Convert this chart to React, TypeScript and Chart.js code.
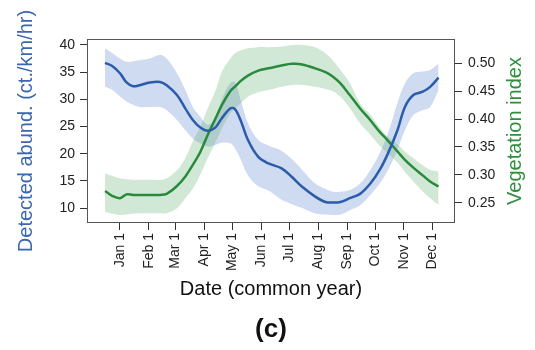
import React, { useEffect, useRef } from "react";
import { Chart, registerables } from "chart.js";

Chart.register(...registerables);

// Day of year (x) for all series samples
const days = [-15, -7, 1, 8, 15, 22, 33, 44, 51, 62, 71, 79, 87, 95, 103, 110, 119, 124, 130, 138, 149, 160, 174, 185, 196, 210, 221, 229, 237, 247, 258, 269, 279, 288, 298, 306, 315, 325, 333, 342];

// Detected abundance (left axis)
const abundMean = [36.7, 36.1, 34.8, 33.1, 32.4, 32.6, 33.1, 33.2, 32.6, 30.8, 28.3, 26.2, 24.8, 24.2, 24.8, 26.5, 28.3, 28.2, 26.2, 22.5, 19.4, 18.2, 17.3, 15.7, 13.9, 12.1, 11.1, 11.0, 11.1, 11.8, 12.6, 14.5, 17.0, 20.1, 24.3, 28.6, 30.8, 31.4, 32.3, 34.0];
const abundUpper = [39.4, 38.5, 37.5, 36.9, 37.0, 37.2, 37.5, 38.2, 37.5, 34.8, 31.7, 28.6, 26.8, 25.3, 26.5, 30.0, 33.0, 33.2, 30.0, 25.6, 22.5, 21.5, 20.5, 19.0, 17.0, 14.5, 13.5, 13.0, 13.0, 13.3, 14.5, 17.0, 20.1, 23.8, 29.3, 32.9, 34.8, 35.1, 35.4, 36.6];
const abundLower = [32.3, 31.7, 30.5, 29.6, 29.0, 28.6, 28.6, 28.6, 28.0, 26.2, 24.3, 22.8, 21.9, 21.3, 21.6, 22.0, 21.9, 21.0, 19.0, 16.0, 14.0, 13.2, 11.5, 10.7, 10.0, 9.0, 8.8, 8.7, 8.8, 9.6, 10.5, 12.4, 14.5, 17.0, 20.7, 24.3, 27.1, 28.0, 28.6, 31.7];

// Vegetation index (right axis)
const vegMean = [0.271, 0.262, 0.258, 0.265, 0.264, 0.264, 0.264, 0.264, 0.266, 0.280, 0.297, 0.318, 0.341, 0.372, 0.400, 0.425, 0.450, 0.458, 0.468, 0.478, 0.487, 0.491, 0.496, 0.499, 0.498, 0.491, 0.484, 0.476, 0.464, 0.443, 0.419, 0.398, 0.377, 0.361, 0.342, 0.327, 0.313, 0.299, 0.288, 0.279];
const vegUpper = [0.303, 0.298, 0.294, 0.292, 0.291, 0.291, 0.291, 0.291, 0.294, 0.308, 0.330, 0.360, 0.386, 0.420, 0.450, 0.485, 0.508, 0.518, 0.523, 0.527, 0.529, 0.529, 0.530, 0.533, 0.533, 0.529, 0.518, 0.505, 0.488, 0.465, 0.428, 0.408, 0.385, 0.368, 0.355, 0.342, 0.330, 0.317, 0.309, 0.306];
const vegLower = [0.234, 0.230, 0.228, 0.229, 0.230, 0.231, 0.231, 0.231, 0.231, 0.240, 0.258, 0.275, 0.300, 0.330, 0.357, 0.383, 0.410, 0.419, 0.428, 0.440, 0.448, 0.452, 0.458, 0.461, 0.461, 0.458, 0.454, 0.450, 0.440, 0.420, 0.392, 0.372, 0.352, 0.338, 0.322, 0.305, 0.288, 0.270, 0.258, 0.246];

// Ticks
const monthDays = [1, 32, 60, 91, 121, 152, 182, 213, 244, 274, 305, 335];
const monthLabels = ["Jan 1", "Feb 1", "Mar 1", "Apr 1", "May 1", "Jun 1", "Jul 1", "Aug 1", "Sep 1", "Oct 1", "Nov 1", "Dec 1"];
const leftTicks = [10, 15, 20, 25, 30, 35, 40];
const rightTicks = [0.25, 0.3, 0.35, 0.4, 0.45, 0.5];

const FONT = '"Liberation Sans", Arial, sans-serif';
const BLUE = "#2b5ca9";
const GREEN = "#2a8a3c";
const BLUE_TITLE = "#3b66b0";
const GREEN_TITLE = "#2f8f3f";

const pts = (arr: number[]) => days.map((d, i) => ({ x: d, y: arr[i] }));

const overlay = {
  id: "overlay",
  afterDraw(chart: any) {
    const { ctx, chartArea } = chart;
    const { left, top, right, bottom } = chartArea;
    ctx.save();
    ctx.strokeStyle = "#555";
    ctx.lineWidth = 1;
    ctx.strokeRect(Math.round(left) + 0.5, Math.round(top) + 0.5, Math.round(right - left) - 1, Math.round(bottom - top) - 1);
    const cy = (top + bottom) / 2;
    ctx.textAlign = "center";
    ctx.textBaseline = "alphabetic";
    ctx.font = `20px ${FONT}`;
    // left title
    ctx.save();
    ctx.fillStyle = BLUE_TITLE;
    ctx.translate(32, cy);
    ctx.rotate(-Math.PI / 2);
    ctx.fillText("Detected abund. (ct./km/hr)", 0, 0);
    ctx.restore();
    // right title
    ctx.save();
    ctx.fillStyle = GREEN_TITLE;
    ctx.translate(521, cy);
    ctx.rotate(-Math.PI / 2);
    ctx.fillText("Vegetation index", 0, 0);
    ctx.restore();
    // x title
    ctx.fillStyle = "#111";
    ctx.fillText("Date (common year)", (left + right) / 2, 295);
    ctx.font = `bold 26px ${FONT}`;
    ctx.fillText("(c)", (left + right) / 2, 337);
    ctx.restore();
  },
};

export default function App() {
  const ref = useRef<HTMLCanvasElement | null>(null);
  useEffect(() => {
    document.body.style.margin = "0";
    const canvas = ref.current;
    if (!canvas) return;
    const chart = new Chart(canvas, {
      type: "line",
      data: {
        datasets: [
          { data: pts(abundMean), yAxisID: "y", borderColor: BLUE, borderWidth: 2.5, pointRadius: 0, tension: 0.35, fill: false },
          { data: pts(vegMean), yAxisID: "y1", borderColor: GREEN, borderWidth: 2.5, pointRadius: 0, tension: 0.35, fill: false },
          { data: pts(vegUpper), yAxisID: "y1", borderWidth: 0, borderColor: "rgba(0,0,0,0)", pointRadius: 0, tension: 0.35, fill: { target: 3 }, backgroundColor: "rgba(80,165,95,0.26)" },
          { data: pts(vegLower), yAxisID: "y1", borderWidth: 0, borderColor: "rgba(0,0,0,0)", pointRadius: 0, tension: 0.35, fill: false },
          { data: pts(abundUpper), yAxisID: "y", borderWidth: 0, borderColor: "rgba(0,0,0,0)", pointRadius: 0, tension: 0.35, fill: { target: 5 }, backgroundColor: "rgba(110,145,210,0.33)" },
          { data: pts(abundLower), yAxisID: "y", borderWidth: 0, borderColor: "rgba(0,0,0,0)", pointRadius: 0, tension: 0.35, fill: false },
        ],
      },
      options: {
        responsive: false,
        animation: false,
        layout: { padding: { top: 39, left: 0, right: 0, bottom: 0 } },
        plugins: { legend: { display: false }, tooltip: { enabled: false } },
        scales: {
          x: {
            type: "linear",
            min: -34.3,
            max: 359.6,
            afterBuildTicks: (s: any) => {
              s.ticks = monthDays.map((v) => ({ value: v }));
            },
            afterFit: (s: any) => {
              s.height = 127;
            },
            ticks: {
              autoSkip: false,
              maxRotation: 90,
              minRotation: 90,
              padding: 3,
              color: "#222",
              font: { size: 14, family: FONT },
              callback: (v: any) => monthLabels[monthDays.indexOf(Number(v))],
            },
            grid: { drawOnChartArea: false, tickLength: 7, color: "#333" },
            border: { display: false },
          },
          y: {
            type: "linear",
            position: "left",
            min: 7.24,
            max: 41.1,
            afterBuildTicks: (s: any) => {
              s.ticks = leftTicks.map((v) => ({ value: v }));
            },
            afterFit: (s: any) => {
              s.width = 87;
            },
            ticks: { padding: 5, color: "#222", font: { size: 14, family: FONT } },
            grid: { drawOnChartArea: false, tickLength: 7, color: "#333" },
            border: { display: false },
          },
          y1: {
            type: "linear",
            position: "right",
            min: 0.2136,
            max: 0.5436,
            afterBuildTicks: (s: any) => {
              s.ticks = rightTicks.map((v) => ({ value: v }));
            },
            afterFit: (s: any) => {
              s.width = 80;
            },
            ticks: { padding: 6, color: "#222", font: { size: 14, family: FONT }, callback: (v: any) => Number(v).toFixed(2) },
            grid: { drawOnChartArea: false, tickLength: 7, color: "#333" },
            border: { display: false },
          },
        },
      },
      plugins: [overlay],
    } as any);
    return () => chart.destroy();
  }, []);
  return (
    <div style={{ width: 535, height: 350 }}>
      <canvas ref={ref} width={535} height={350} style={{ display: "block" }} />
    </div>
  );
}
